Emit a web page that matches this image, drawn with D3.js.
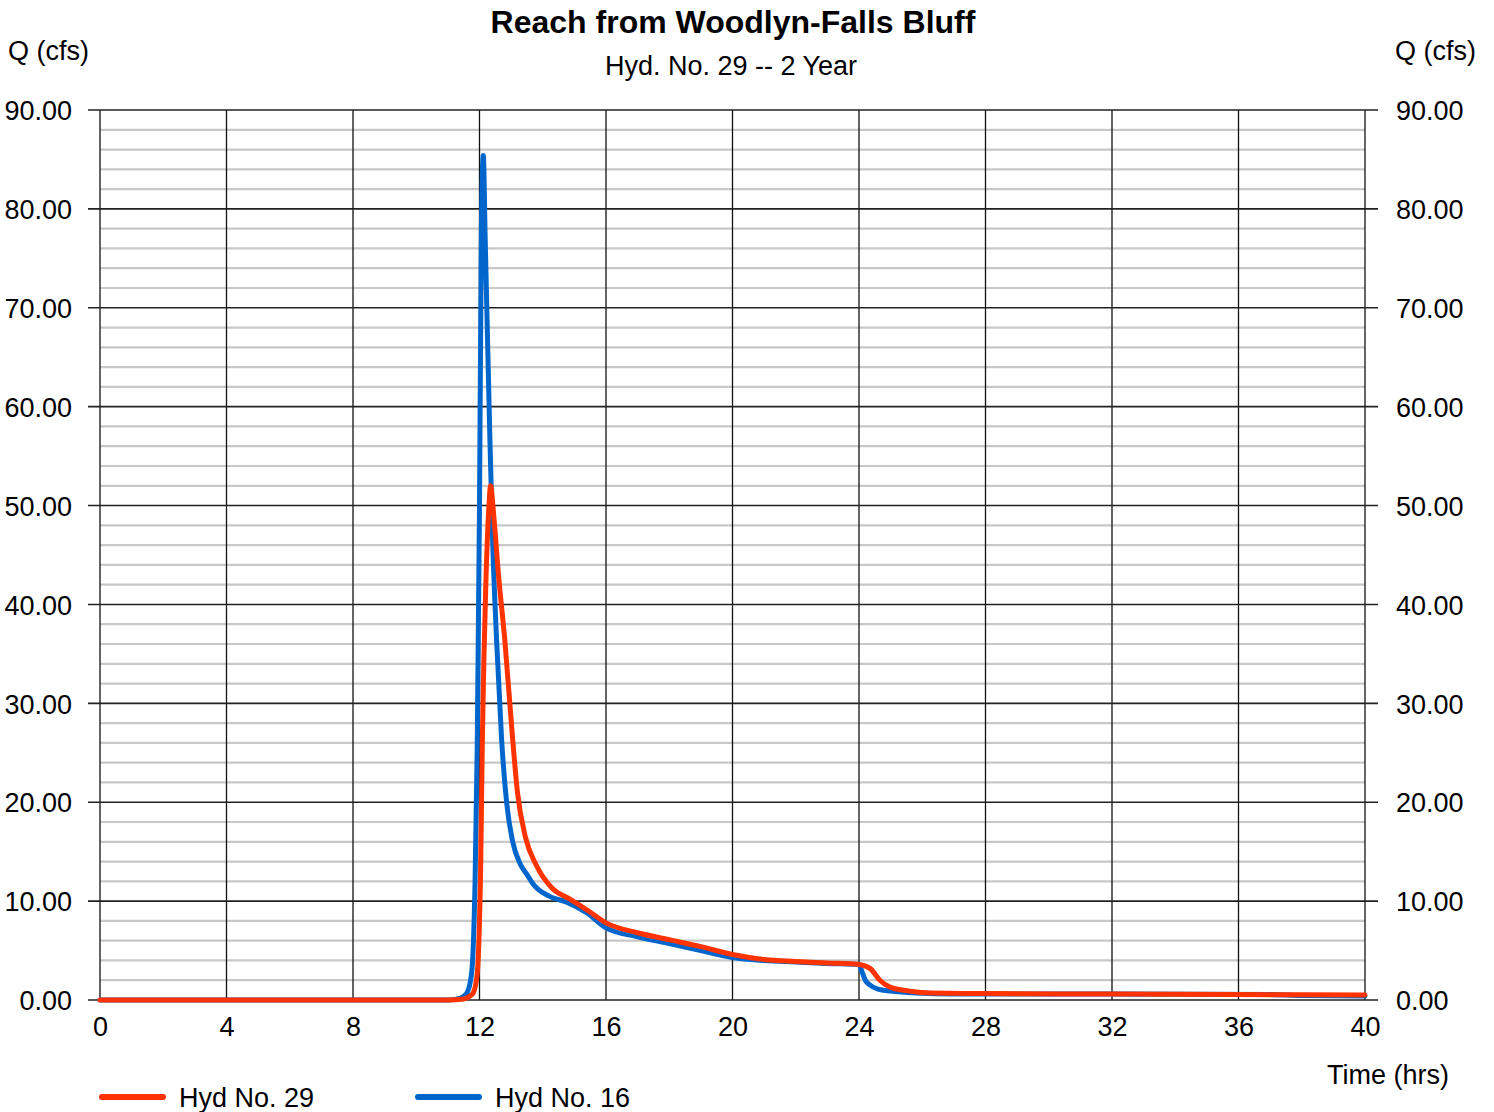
<!DOCTYPE html>
<html><head><meta charset="utf-8">
<script src="https://cdn.jsdelivr.net/npm/d3@7"></script>
<style>body{margin:0;background:#fff}svg text{font-family:"Liberation Sans",Arial,sans-serif;fill:#000}</style>
</head><body><svg id="c" width="1494" height="1112"></svg>
<script>
const title = "Reach from Woodlyn-Falls Bluff";
const subtitle = "Hyd. No. 29 -- 2 Year";
const xTicks = [0,4,8,12,16,20,24,28,32,36,40];
const yTicks = [0,10,20,30,40,50,60,70,80,90];
const seriesNames = ["Hyd No. 29","Hyd No. 16"];
const seriesColors = ["#ff3300","#0066cc"];
const hyd29Time = [0,11,11.5,11.7,11.8,11.93,12.0,12.03,12.09,12.2,12.3,12.35,12.45,12.6,12.8,13.05,13.2,13.45,13.8,14.3,14.86,15.4,16,17,18,19,20,21,22,23,24,24.35,24.66,24.98,25.6,26.3,28,32,36,40];
const hyd29Q    = [0,0,0.1,0.4,0.7,2.7,8,12,26.3,42,50,52,49,43,36.4,26.3,21,16.5,13.6,11.3,10.2,9.1,7.8,6.8,6.1,5.4,4.6,4.1,3.9,3.75,3.6,3.2,2.0,1.3,0.9,0.7,0.65,0.6,0.55,0.5];
const hyd16Time = [0,11,11.4,11.6,11.75,11.86,11.93,12.0,12.06,12.12,12.18,12.33,12.42,12.54,12.7,12.86,13.05,13.28,13.5,13.7,14.2,14.76,15.4,16,17,18,19,20,21,22,23,24,24.08,24.2,24.35,24.6,25,25.8,27,32,37,38,40];
const hyd16Q    = [0,0,0.2,0.7,2.7,12,26,50,78,85.4,77,56.6,46,36.4,26.3,19.9,16,13.8,12.7,11.7,10.5,9.9,8.8,7.3,6.4,5.7,5.0,4.3,4.0,3.85,3.7,3.6,3.0,2.0,1.5,1.1,0.9,0.7,0.6,0.6,0.55,0.45,0.4];

const svg = d3.select("#c");
const L=100,R=1365,T=110,B=1000;
const x = d3.scaleLinear().domain([0,40]).range([L,R]);
const y = d3.scaleLinear().domain([0,90]).range([B,T]);
const FS = "27px";

// minor gridlines
const minor = d3.range(2,90,2).filter(v=>v%10!==0);
svg.append("g").selectAll("line").data(minor).join("line")
  .attr("x1",L).attr("x2",R).attr("y1",d=>y(d)).attr("y2",d=>y(d))
  .attr("stroke","#c8c8c8").attr("stroke-width",2.2);
// vertical gridlines
svg.append("g").selectAll("line").data(xTicks).join("line")
  .attr("x1",d=>x(d)).attr("x2",d=>x(d)).attr("y1",T).attr("y2",B)
  .attr("stroke","#111").attr("stroke-width",1.3);
// major horizontal
svg.append("g").selectAll("line").data(yTicks).join("line")
  .attr("x1",L-12).attr("x2",R+13).attr("y1",d=>y(d)).attr("y2",d=>y(d))
  .attr("stroke","#222").attr("stroke-width",1.6);

const fmt = d3.format(".2f");
const ga = svg.append("g").attr("transform",`translate(${L-28},0)`)
  .call(d3.axisLeft(y).tickValues(yTicks).tickFormat(fmt).tickSize(0).tickPadding(0));
const gb = svg.append("g").attr("transform",`translate(${R+31},0)`)
  .call(d3.axisRight(y).tickValues(yTicks).tickFormat(fmt).tickSize(0).tickPadding(0));
const gx = svg.append("g").attr("transform",`translate(0,${B+16})`)
  .call(d3.axisBottom(x).tickValues(xTicks).tickSize(0).tickPadding(0));
[ga,gb,gx].forEach(g=>{g.select(".domain").remove();
  g.selectAll("text").style("font-family","'Liberation Sans',Arial,sans-serif").style("font-size",FS).attr("fill","#000");});
ga.selectAll("text").attr("dy","0.36em");
gb.selectAll("text").attr("dy","0.36em");
gx.selectAll("text").attr("dy","0.75em");

const line = d3.line().x(d=>x(d[0])).y(d=>y(d[1])).curve(d3.curveMonotoneX);
const s29 = hyd29Time.map((t,i)=>[t,hyd29Q[i]]);
const s16 = hyd16Time.map((t,i)=>[t,hyd16Q[i]]);
svg.append("path").datum(s16).attr("d",line).attr("fill","none")
  .attr("stroke",seriesColors[1]).attr("stroke-width",5).attr("stroke-linejoin","round").attr("stroke-linecap","round");
svg.append("path").datum(s29).attr("d",line).attr("fill","none")
  .attr("stroke",seriesColors[0]).attr("stroke-width",5).attr("stroke-linejoin","round").attr("stroke-linecap","round");

svg.append("text").attr("x",733).attr("y",33).attr("text-anchor","middle")
  .style("font-size","32px").style("font-weight","bold").text(title);
svg.append("text").attr("x",731).attr("y",75).attr("text-anchor","middle")
  .style("font-size",FS).text(subtitle);
svg.append("text").attr("x",8).attr("y",60).style("font-size",FS).text("Q (cfs)");
svg.append("text").attr("x",1476).attr("y",60).attr("text-anchor","end").style("font-size",FS).text("Q (cfs)");
svg.append("text").attr("x",1449).attr("y",1084).attr("text-anchor","end").style("font-size",FS).text("Time (hrs)");

const lx=[100,416];
seriesNames.forEach((n,i)=>{
  svg.append("line").attr("x1",lx[i]+2).attr("x2",lx[i]+63).attr("y1",1097).attr("y2",1097)
    .attr("stroke",seriesColors[i]).attr("stroke-width",6).attr("stroke-linecap","round");
  svg.append("text").attr("x",lx[i]+79).attr("y",1107).style("font-size",FS).text(n);
});
</script></body></html>
